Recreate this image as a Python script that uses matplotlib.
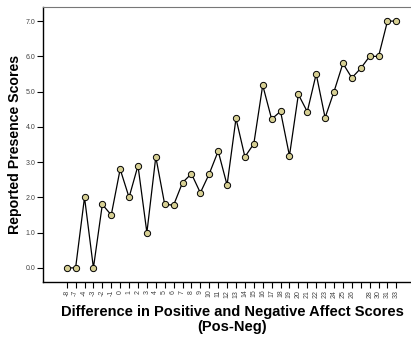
import matplotlib
matplotlib.use("Agg")
import matplotlib.pyplot as plt

# difference score categories (27 has no label on the axis)
diff_labels = ['-8', '-7', '-4', '-3', '-2', '-1'] + [str(i) for i in range(0, 27)] + ['', '28', '30', '31', '33']
presence = [0.0, 0.0, 2.0, 0.0, 1.8, 1.5, 2.8, 2.0, 2.9, 1.0,
            3.15, 1.8, 1.78, 2.42, 2.67, 2.13, 2.67, 3.31, 2.35, 4.24,
            3.15, 3.52, 5.18, 4.22, 4.44, 3.18, 4.92, 4.43, 5.5, 4.26,
            5.0, 5.8, 5.39, 5.66, 6.0, 6.0, 7.0, 7.0]
yticks = [0, 1, 2, 3, 4, 5, 6, 7]

plt.rcParams['font.family'] = ['Liberation Sans', 'DejaVu Sans']

fig = plt.figure(figsize=(4.11, 3.38), dpi=100)
ax = fig.add_axes([0.1046, 0.1657, 0.8954, 0.8136])

xs = list(range(len(presence)))
ax.plot(xs, presence, color='black', linewidth=0.9,
        marker='o', markersize=4.5, markerfacecolor='#d6cf93',
        markeredgecolor='black', markeredgewidth=0.7, zorder=3)

ax.set_xlim(-2.66, 38.64)
ax.set_ylim(-0.40, 7.40)

ax.set_xticks(xs)
ax.set_xticklabels(diff_labels, rotation=90, fontsize=5, color='#444444')
ax.set_yticks(yticks)
ax.set_yticklabels(['%.1f' % v for v in yticks], fontsize=5, color='#444444')

ax.tick_params(axis='both', direction='out', length=4, width=0.8, pad=1.5)

ax.spines['right'].set_visible(False)
ax.spines['top'].set_color('#777777')
ax.spines['left'].set_linewidth(1.0)
ax.spines['bottom'].set_linewidth(1.0)

ax.set_ylabel('Reported Presence Scores', fontsize=10.2, fontweight='bold')
ax.set_xlabel('Difference in Positive and Negative Affect Scores\n(Pos-Neg)',
              fontsize=10.5, fontweight='bold', linespacing=1.1)
ax.xaxis.set_label_coords(0.514, -0.085)
ax.yaxis.set_label_coords(-0.058, 0.5)

fig.savefig('out.png', dpi=100)
